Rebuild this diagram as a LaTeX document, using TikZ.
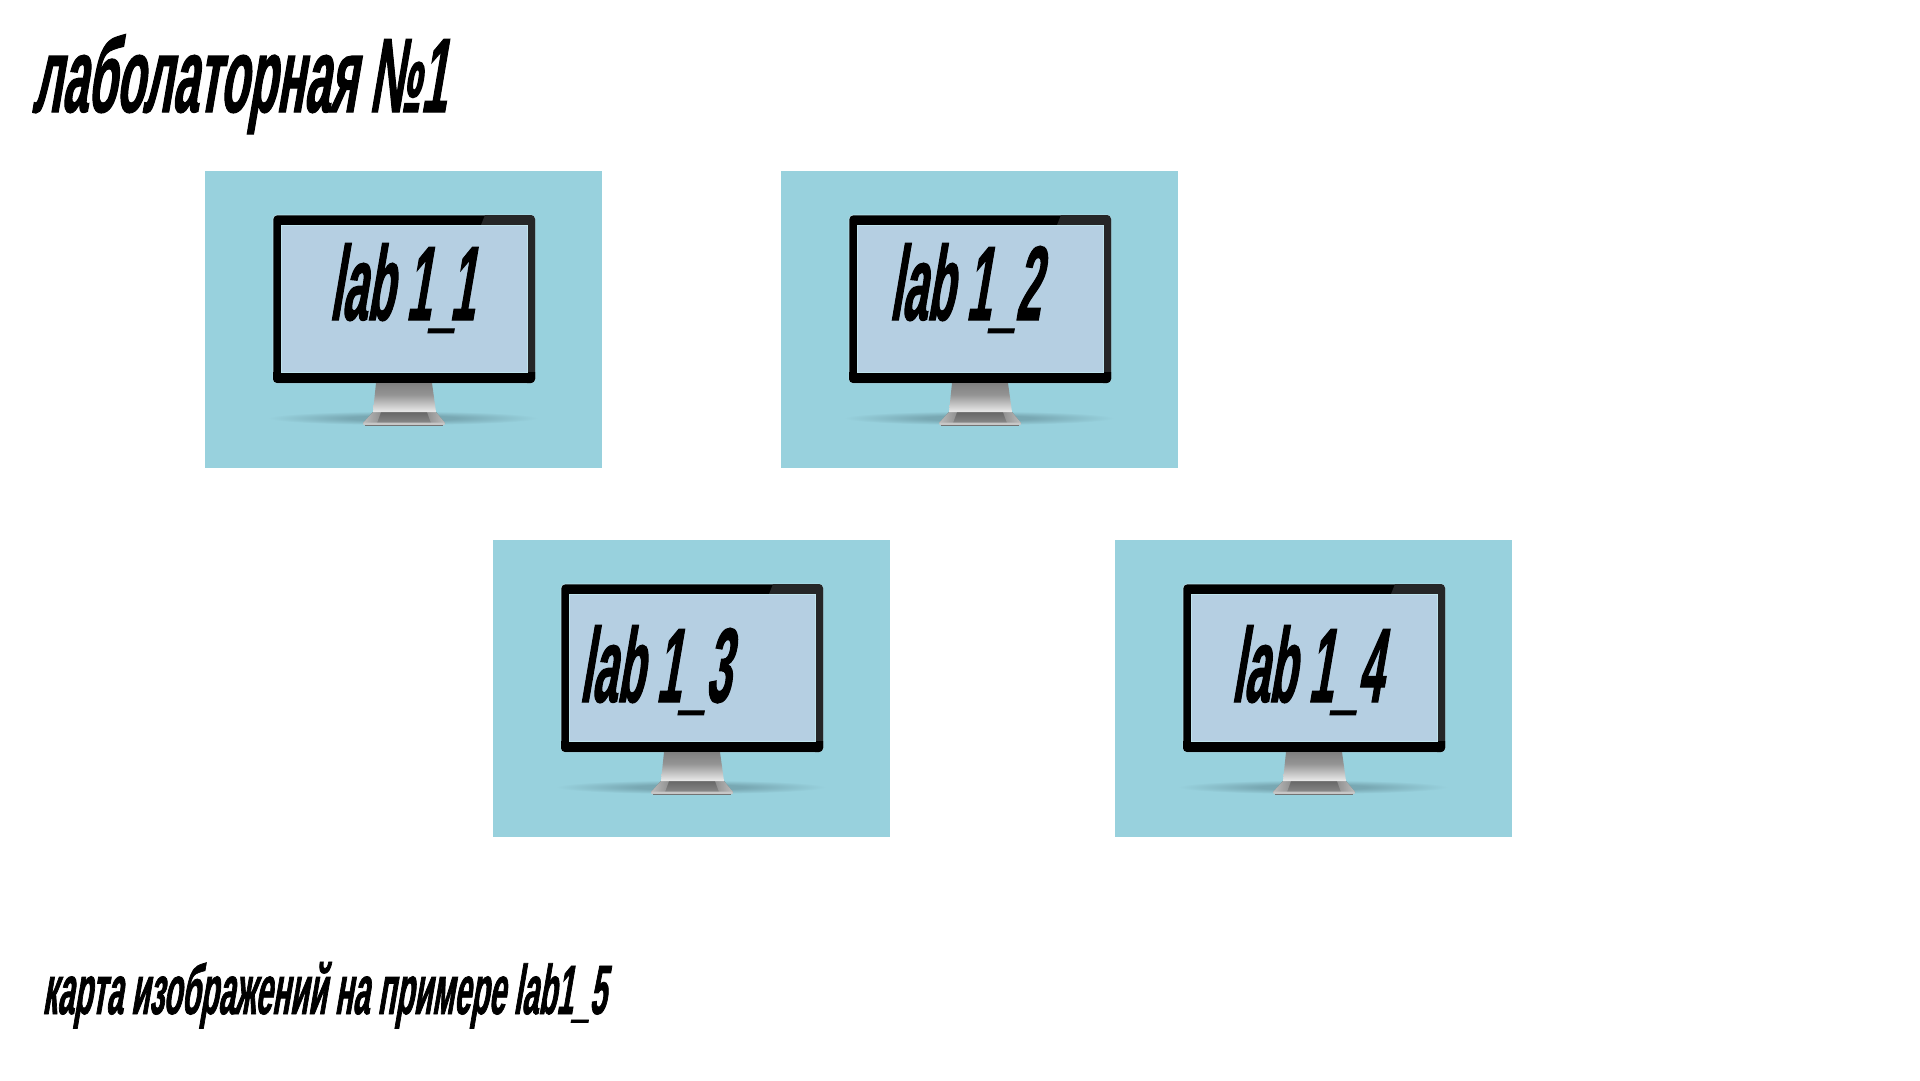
\documentclass[tikz,border=0pt]{standalone}
\usepackage{fontspec}
\setmainfont{Liberation Sans}
\newfontfamily\headfont[UprightFont=*-Bold,BoldFont=*-Bold,FakeStretch=0.42,FakeSlant=0.17,FakeBold=1]{Liberation Sans}
\newfontfamily\titlefont[UprightFont=*-Bold,BoldFont=*-Bold,FakeStretch=0.435,FakeSlant=0.17,FakeBold=1]{Liberation Sans}
\newfontfamily\footfont[UprightFont=*-Bold,BoldFont=*-Bold,FakeStretch=0.425,FakeSlant=0.17,FakeBold=1]{Liberation Sans}
\definecolor{cardc}{HTML}{98D1DD}
\definecolor{screenc}{HTML}{B5CFE2}
\definecolor{edgec}{HTML}{BFE3EC}
\definecolor{glossc}{HTML}{252627}
\definecolor{shadowc}{HTML}{78A8B3}
\pgfdeclareverticalshading{standshade}{100bp}{
  color(0bp)=(black!62);
  color(10bp)=(black!32);
  color(25bp)=(black!8);
  color(55bp)=(black!42);
  color(100bp)=(black!60)
}
\pgfdeclareverticalshading{baseshade}{100bp}{
  color(0bp)=(black!38);
  color(45bp)=(black!52);
  color(100bp)=(black!66)
}
\pgfdeclarehorizontalshading{baseside}{100bp}{
  color(0bp)=(black!18);
  color(100bp)=(black!52)
}
\pgfdeclareradialshading{shadowshade}{\pgfpoint{0bp}{0bp}}{
  color(0bp)=(shadowc);
  color(10bp)=(shadowc);
  color(25bp)=(cardc);
  color(50bp)=(cardc)
}
\tikzset{
  x=1pt,y=-1pt,
  card/.style={fill=cardc,draw=none},
  bezel/.style={fill=black,draw=edgec,line width=0.6pt,rounded corners=4pt},
  screen/.style={fill=screenc,draw=edgec,line width=0.8pt},
  headtext/.style={inner sep=0pt,anchor=base west,text=black,font=\headfont\fontsize{106}{110}\selectfont},
  titletext/.style={inner sep=0pt,anchor=base west,text=black,font=\titlefont\fontsize{106}{110}\selectfont},
  foottext/.style={inner sep=0pt,anchor=base west,text=black,font=\footfont\fontsize{70}{74}\selectfont},
  monitorpic/.pic={
    \path[card] (0,0) rectangle (397,297);
    \shade[shading=shadowshade,draw=none] (198,247) ellipse [x radius=135,y radius=7];
    \path[bezel] (68,44) rectangle (330,212);
    \begin{scope}
      \clip[rounded corners=4pt] (68,44) rectangle (330,212);
      \fill[glossc] (280,44) -- (331,44) -- (331,212) -- (322,212) -- (322,54) -- (276,54) -- cycle;
      \fill[black] (68,201) rectangle (331,212);
    \end{scope}
    \path[screen] (76,54) rectangle (322,201);
    \shade[shading=baseshade,draw=none] (168,241) -- (231,241) -- (240,252) -- (158,252) -- cycle;
    \shade[shading=baseside,draw=none] (158,252) -- (168,241) -- (176,241) -- (172,252) -- cycle;
    \shade[shading=baseside,shading angle=180,draw=none] (240,252) -- (231,241) -- (222,241) -- (226,252) -- cycle;
    \shade[shading=standshade,draw=none] (171,212) -- (227,212) -- (231,241) -- (168,241) -- cycle;
    \fill[black!22] (159,251.5) -- (239,251.5) -- (240,253) -- (239,254) -- (159,254) -- (158,253) -- cycle;
    \fill[black!55] (160,253.6) rectangle (238,254.6);
  }
}
\begin{document}
\begin{tikzpicture}
\useasboundingbox (0,0) rectangle (1920,1080);
\fill[white] (0,0) rectangle (1920,1080);
\pic at (205,171) {monitorpic};
\pic at (781,171) {monitorpic};
\pic at (493,540) {monitorpic};
\pic at (1115,540) {monitorpic};
\node[titletext] (title) at (32,112) {лаболаторная №1};
\node[headtext] (lab1) at (329,320) {lab 1\_\kern-6pt 1};
\node[headtext] (lab2) at (889,320) {lab 1\_2};
\node[headtext] (lab3) at (579,702) {lab 1\_3};
\node[headtext] (lab4) at (1231,702) {lab 1\_4};
\node[foottext] (foot) at (42,1014) {карта изображений на примере lab1\_5};
\end{tikzpicture}
\end{document}
